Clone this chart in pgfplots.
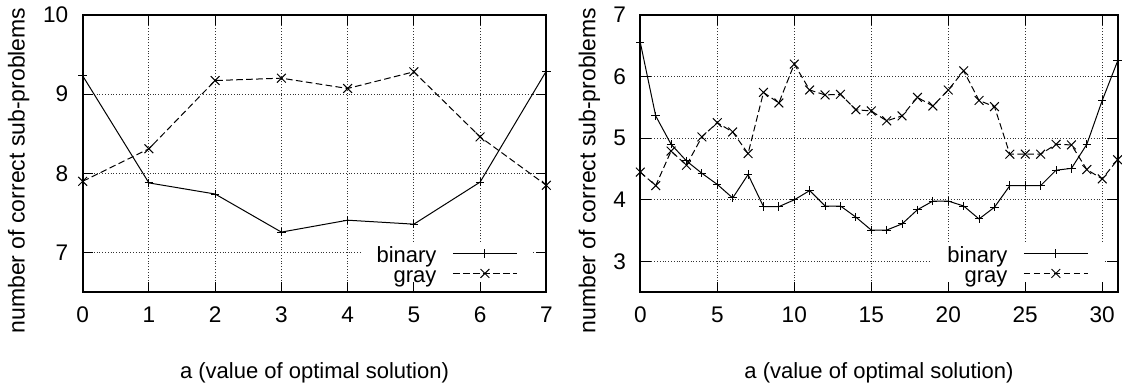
\documentclass[border=0pt]{standalone}
\usepackage{fontspec}
\setmainfont{Liberation Sans}
\usepackage{pgfplots}
\usepackage{pgfplotstable}
\pgfplotsset{compat=1.18}

\pgfplotstableread{
x binary gray
0 9.23 7.90
1 7.88 8.31
2 7.74 9.17
3 7.26 9.20
4 7.41 9.07
5 7.36 9.28
6 7.89 8.46
7 9.29 7.85
}\lefttab

\pgfplotstableread{
x binary gray
0 6.55 4.45
1 5.36 4.23
2 4.90 4.79
3 4.63 4.56
4 4.43 5.02
5 4.25 5.25
6 4.03 5.10
7 4.41 4.75
8 3.89 5.74
9 3.89 5.57
10 4.00 6.20
11 4.15 5.78
12 3.90 5.70
13 3.90 5.71
14 3.72 5.46
15 3.51 5.44
16 3.51 5.28
17 3.61 5.36
18 3.84 5.66
19 3.98 5.52
20 3.98 5.78
21 3.90 6.09
22 3.69 5.61
23 3.88 5.51
24 4.23 4.74
25 4.23 4.74
26 4.23 4.74
27 4.48 4.90
28 4.51 4.89
29 4.90 4.49
30 5.61 4.34
31 6.25 4.65
}\righttab

\pgfplotsset{
  layers/gp/.define layer set={axis background,axis grid,pre main,main,axis descriptions,axis ticks,axis lines,axis tick labels,axis foreground}{
    grid style={/pgfplots/on layer=axis grid},
    tick style={/pgfplots/on layer=axis ticks},
    axis line style={/pgfplots/on layer=axis lines},
    label style={/pgfplots/on layer=axis descriptions},
    legend style={/pgfplots/on layer=axis descriptions},
    title style={/pgfplots/on layer=axis descriptions},
    colorbar style={/pgfplots/on layer=axis descriptions},
    ticklabel style={/pgfplots/on layer=axis tick labels},
    axis background@ style={/pgfplots/on layer=axis background},
    3d box foreground style={/pgfplots/on layer=axis foreground},
  },
  gp/.style={
    set layers=gp,
    scale only axis,
    height=138.9pt,
    axis line style={line width=1pt},
    tick style={black, line width=0.5pt},
    major tick length=5.3pt,
    tick align=inside,
    grid=major,
    grid style={black!80, line width=0.5pt, dash pattern=on 0.5pt off 0.9pt},
    /pgf/number format/assume math mode=true,
    ticklabel style={font=\fontsize{11.3}{13}\selectfont},
    xticklabel style={anchor=base, inner sep=0pt, yshift=-15.25pt},
    yticklabel style={anchor=east, inner sep=0pt, xshift=-7pt},
    label style={font=\fontsize{11}{13}\selectfont},
    xlabel style={anchor=base},
    ylabel style={anchor=base, font=\fontsize{11.5}{13}\selectfont},
    legend plot pos=right,
    legend cell align=right,
    legend style={draw=none, fill=white, anchor=south east, at={(0.973,0)},
      yshift=-2pt,
      inner xsep=8pt, inner ysep=3.5pt, column sep=8pt, row sep=0pt,
      font=\fontsize{11}{13}\selectfont,
      nodes={inner sep=0pt, text height=6.5pt, text depth=3.5pt}},
    legend image code/.code={\draw[mark repeat=2,mark phase=2,#1] plot coordinates {(0pt,2.8pt)(16pt,2.8pt)(32pt,2.8pt)};},
  },
  bin/.style={black, line width=0.5pt, mark=+, mark size=2.1pt, mark options={solid}},
  gry/.style={black, line width=0.5pt, dash pattern=on 3.3pt off 1.7pt, mark=x, mark size=3.1pt, mark options={solid}},
}

\begin{document}
\begin{tikzpicture}
\begin{axis}[gp,
  at={(41.35pt,47.25pt)}, anchor=south west,
  width=231.9pt,
  xmin=0, xmax=7, ymin=6.5, ymax=10,
  xtick={0,1,2,3,4,5,6,7},
  ytick={7,8,9,10},
  xlabel={a (value of optimal solution)},
  ylabel={number of correct sub-problems},
  xlabel style={at={(axis description cs:0.5,-0.3096)}},
  ylabel style={at={(axis description cs:-0.1251,0.439)}},
]
\addplot[bin] table[x=x, y=binary] {\lefttab};
\addlegendentry{binary}
\addplot[gry] table[x=x, y=gray] {\lefttab};
\addlegendentry{gray}
\end{axis}

\begin{axis}[gp,
  at={(320.25pt,47.25pt)}, anchor=south west,
  width=238.75pt,
  xmin=0, xmax=31, ymin=2.5, ymax=7,
  xtick={0,5,10,15,20,25,30},
  ytick={3,4,5,6,7},
  xlabel={a (value of optimal solution)},
  ylabel={number of correct sub-problems},
  xlabel style={at={(axis description cs:0.5,-0.3096)}},
  ylabel style={at={(axis description cs:-0.0942,0.439)}},
]
\addplot[bin] table[x=x, y=binary] {\righttab};
\addlegendentry{binary}
\addplot[gry] table[x=x, y=gray] {\righttab};
\addlegendentry{gray}
\end{axis}
\path (0pt,0pt) rectangle (561pt,193.5pt);
\end{tikzpicture}
\end{document}
